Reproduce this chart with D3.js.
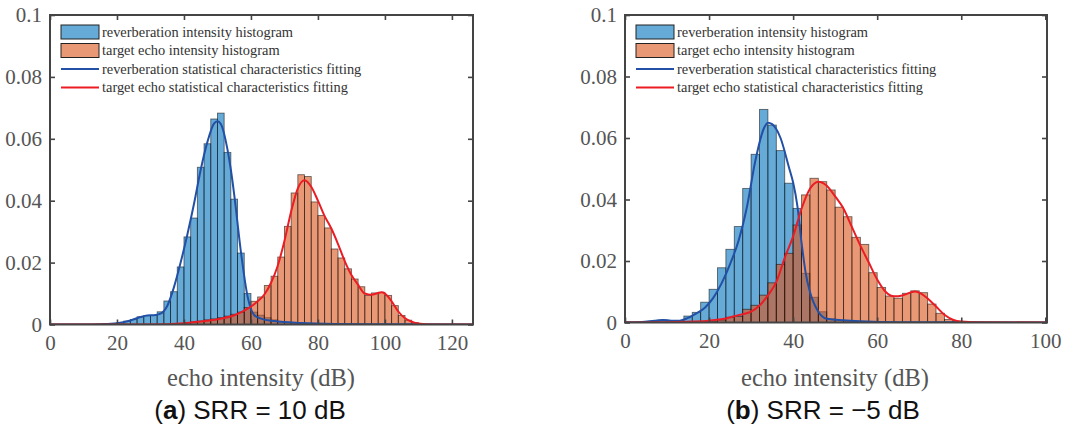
<!DOCTYPE html>
<html>
<head>
<meta charset="utf-8">
<script src="https://cdn.jsdelivr.net/npm/d3@7"></script>
<style>
  html, body { margin: 0; padding: 0; background: #fff; }
  svg { display: block; }
</style>
</head>
<body>
<svg id="chart" width="1072" height="431"></svg>
<script>
// ---------- DATA ----------
// Panel (a) SRR = 10 dB
const aBlueBinStart = [14,16,18,20,22,24,26,28,30,32,34,36,38,40,42,44,46,48,50,52,54,56,58,60,62,64,66,68,70,72,74,76];
const aBlueBinValue = [0.0001,0.0002,0.0003,0.0006,0.0011,0.0016,0.0025,0.0029,0.0029,0.0041,0.0076,0.0106,0.0186,0.0283,0.0344,0.0508,0.0584,0.0664,0.0683,0.0556,0.0405,0.0231,0.0100,0.0040,0.0030,0.0022,0.0015,0.0010,0.0007,0.0005,0.0003,0.0002];
const aOrangeBinStart = [38,40,42,44,46,48,50,52,54,56,58,60,62,64,66,68,70,72,74,76,78,80,82,84,86,88,90,92,94,96,98,100,102,104,106,108];
const aOrangeBinValue = [0.0003,0.0006,0.0008,0.0011,0.0015,0.0018,0.0022,0.0027,0.0033,0.0040,0.0055,0.0075,0.0089,0.0126,0.0156,0.0218,0.0317,0.0425,0.0484,0.0478,0.0396,0.0352,0.0312,0.0244,0.0215,0.0180,0.0147,0.0122,0.0094,0.0102,0.0104,0.0094,0.0061,0.0029,0.0014,0.0006];
const aBlueFitX = [0,10,15,20,24,27,29,31,33,35,37,39,41,43,45,47,49,50,51,53,54,55,57,59,61,63,67,75,85,100,126];
const aBlueFitY = [0,0,0.0001,0.0004,0.0013,0.0024,0.0029,0.0030,0.0035,0.0060,0.0120,0.0200,0.0290,0.0390,0.0500,0.0590,0.0650,0.0657,0.0648,0.0565,0.0500,0.0420,0.0235,0.0090,0.0030,0.0019,0.0011,0.0005,0.0002,0.0001,0];
const aRedFitX = [0,30,40,45,50,55,58,60,62,64,66,68,70,72,74,76,78,80,82,84,86,88,90,92,94,96,98,99,100,102,104,106,108,110,114,126];
const aRedFitY = [0,0,0.0004,0.0010,0.0017,0.0030,0.0045,0.0058,0.0075,0.0097,0.0135,0.0190,0.0270,0.0365,0.0440,0.0466,0.0445,0.0400,0.0350,0.0310,0.0260,0.0205,0.0160,0.0128,0.0100,0.0096,0.0102,0.0104,0.0100,0.0075,0.0042,0.0020,0.0009,0.0003,0,0];
const aXTicks = [0,20,40,60,80,100,120];

// Panel (b) SRR = -5 dB
const bBlueBinStart = [6,8,10,12,14,16,18,20,22,24,26,28,30,32,34,36,38,40,42,44,46,48,50,52,54,56];
const bBlueBinValue = [0.0003,0.0008,0.0006,0.0005,0.0021,0.0033,0.0066,0.0108,0.0178,0.0238,0.0312,0.0436,0.0547,0.0693,0.0642,0.0559,0.0453,0.0371,0.0160,0.0082,0.0035,0.0012,0.0008,0.0005,0.0003,0.0002];
const bOrangeBinStart = [16,18,20,22,24,26,28,30,32,34,36,38,40,42,44,46,48,50,52,54,56,58,60,62,64,66,68,70,72,74,76,78];
const bOrangeBinValue = [0.0002,0.0003,0.0004,0.0008,0.0017,0.0020,0.0043,0.0056,0.0089,0.0129,0.0189,0.0225,0.0317,0.0415,0.0469,0.0458,0.0431,0.0375,0.0344,0.0277,0.0254,0.0162,0.0114,0.0086,0.0079,0.0095,0.0103,0.0097,0.0060,0.0030,0.0010,0.0003];
const bBlueFitX = [0,4,7,9,11,13,15,17,19,21,23,25,27,29,31,33,34,35,37,39,40,41,42,43,44,46,48,52,56,65,100];
const bBlueFitY = [0.0001,0.0002,0.0006,0.0008,0.0006,0.0006,0.0015,0.0030,0.0048,0.0080,0.0128,0.0190,0.0265,0.0375,0.0525,0.0630,0.0650,0.0645,0.0600,0.0505,0.0455,0.0380,0.0260,0.0160,0.0100,0.0035,0.0012,0.0007,0.0004,0.0001,0];
const bRedFitX = [0,10,16,20,24,27,30,32,34,36,38,40,42,44,46,48,50,52,54,56,58,60,62,64,66,68,69,70,72,74,76,78,80,84,100];
const bRedFitY = [0,0.0001,0.0003,0.0006,0.0013,0.0024,0.0035,0.0055,0.0088,0.0132,0.0210,0.0280,0.0370,0.0435,0.0458,0.0445,0.0410,0.0370,0.0310,0.0250,0.0195,0.0140,0.0100,0.0085,0.0088,0.0098,0.0101,0.0097,0.0078,0.0052,0.0025,0.0009,0.0003,0.0001,0];
const bXTicks = [0,20,40,60,80,100];

const binWidth = 2;
const yTicks = [0, 0.02, 0.04, 0.06, 0.08, 0.1];
const yTickLabels = ["0", "0.02", "0.04", "0.06", "0.08", "0.1"];
const legendLabels = [
  "reverberation intensity histogram",
  "target echo intensity histogram",
  "reverberation statistical characteristics fitting",
  "target echo statistical characteristics fitting"
];
const xAxisTitle = "echo intensity (dB)";

// ---------- STYLE ----------
const blueFill = "rgb(0,114,189)";
const orangeFill = "rgb(217,83,25)";
const blueLine = "#2150a6";
const redLine = "#ec1c24";
const axisColor = "#444";
const serif = "'Liberation Serif', 'DejaVu Serif', serif";
const sans = "'Liberation Sans', Arial, sans-serif";

const svg = d3.select("#chart");

function panel(cfg) {
  const x = d3.scaleLinear().domain(cfg.xDomain).range(cfg.xRange);
  const y = d3.scaleLinear().domain([0, 0.1]).range(cfg.yRange);
  const g = svg.append("g");

  const clipId = "clip" + cfg.id;
  svg.append("clipPath").attr("id", clipId).append("rect")
    .attr("x", cfg.xRange[0]).attr("y", cfg.yRange[1])
    .attr("width", cfg.xRange[1] - cfg.xRange[0]).attr("height", cfg.yRange[0] - cfg.yRange[1]);
  const plot = g.append("g").attr("clip-path", `url(#${clipId})`);

  function bars(starts, values, fill) {
    plot.append("g").selectAll("rect")
      .data(starts.map((s, i) => ({ s, v: values[i] })))
      .join("rect")
      .attr("x", d => x(d.s))
      .attr("width", d => x(d.s + binWidth) - x(d.s))
      .attr("y", d => y(d.v))
      .attr("height", d => y(0) - y(d.v))
      .attr("fill", fill).attr("fill-opacity", 0.6)
      .attr("stroke", "#000").attr("stroke-opacity", 0.55).attr("stroke-width", 0.9);
  }
  bars(cfg.blueStart, cfg.blueVal, blueFill);
  bars(cfg.orangeStart, cfg.orangeVal, orangeFill);

  const line = d3.line().x(d => x(d[0])).y(d => y(d[1])).curve(d3.curveMonotoneX);
  plot.append("path").datum(cfg.blueFitX.map((v, i) => [v, cfg.blueFitY[i]]))
    .attr("d", line).attr("fill", "none").attr("stroke", blueLine).attr("stroke-width", 2);
  plot.append("path").datum(cfg.redFitX.map((v, i) => [v, cfg.redFitY[i]]))
    .attr("d", line).attr("fill", "none").attr("stroke", redLine).attr("stroke-width", 2);

  // axes (ticks pointing inward)
  const styleAxis = sel => {
    sel.attr("font-family", serif).attr("font-size", 21);
    sel.select(".domain").remove();
    sel.selectAll(".tick line").attr("stroke", axisColor).attr("stroke-width", 1.6);
    sel.selectAll(".tick text").attr("fill", "#555").attr("font-family", serif).attr("font-size", 21);
  };
  g.append("g").attr("transform", `translate(0,${cfg.yRange[0]})`)
    .call(d3.axisBottom(x).tickValues(cfg.xTicks).tickFormat(d3.format("d")).tickSize(-5).tickPadding(11))
    .call(styleAxis);
  g.append("g").attr("transform", `translate(0,${cfg.yRange[1]})`)
    .call(d3.axisTop(x).tickValues(cfg.xTicks).tickFormat("").tickSize(-5))
    .call(styleAxis);
  g.append("g").attr("transform", `translate(${cfg.xRange[0]},0)`)
    .call(d3.axisLeft(y).tickValues(yTicks).tickFormat((d, i) => yTickLabels[i]).tickSize(-5).tickPadding(8))
    .call(styleAxis);
  g.append("g").attr("transform", `translate(${cfg.xRange[1]},0)`)
    .call(d3.axisRight(y).tickValues(yTicks).tickFormat("").tickSize(-5))
    .call(styleAxis);

  g.append("rect")
    .attr("x", cfg.xRange[0]).attr("y", cfg.yRange[1])
    .attr("width", cfg.xRange[1] - cfg.xRange[0]).attr("height", cfg.yRange[0] - cfg.yRange[1])
    .attr("fill", "none").attr("stroke", axisColor).attr("stroke-width", 2);

  // legend
  const lx = cfg.xRange[0] + 11;
  const rows = [32, 50.5, 69, 87.5];
  const lg = g.append("g");
  [blueFill, orangeFill].forEach((c, i) => {
    lg.append("rect").attr("x", lx).attr("y", rows[i] - 7).attr("width", 38).attr("height", 14)
      .attr("fill", c).attr("fill-opacity", 0.6).attr("stroke", "#222").attr("stroke-width", 1);
  });
  [blueLine, redLine].forEach((c, i) => {
    lg.append("line").attr("x1", lx).attr("x2", lx + 38)
      .attr("y1", rows[i + 2]).attr("y2", rows[i + 2])
      .attr("stroke", c).attr("stroke-width", 2);
  });
  legendLabels.forEach((t, i) => {
    lg.append("text").attr("x", lx + 41).attr("y", rows[i]).attr("dy", "0.33em")
      .attr("font-family", serif).attr("font-size", 14.4).attr("fill", "#333").text(t);
  });

  // titles
  const cx = (cfg.xRange[0] + cfg.xRange[1]) / 2;
  g.append("text").attr("x", cfg.titleX).attr("y", 378).attr("dy", "0.33em").attr("text-anchor", "middle")
    .attr("font-family", serif).attr("font-size", 24.5).attr("fill", "#555").text(xAxisTitle);
  const cap = g.append("text").attr("x", cfg.captionX).attr("y", 410).attr("dy", "0.35em")
    .attr("text-anchor", "middle").attr("font-family", sans).attr("font-size", 26).attr("fill", "#111");
  cap.append("tspan").text("(");
  cap.append("tspan").attr("font-weight", "bold").text(cfg.letter);
  cap.append("tspan").text(") " + cfg.caption);
}

panel({
  id: "a", xDomain: [0, 126.3], xRange: [50, 473], yRange: [324.5, 15],
  blueStart: aBlueBinStart, blueVal: aBlueBinValue,
  orangeStart: aOrangeBinStart, orangeVal: aOrangeBinValue,
  blueFitX: aBlueFitX, blueFitY: aBlueFitY, redFitX: aRedFitX, redFitY: aRedFitY,
  xTicks: aXTicks, letter: "a", caption: "SRR = 10 dB", captionX: 250, titleX: 261
});
panel({
  id: "b", xDomain: [0, 100.4], xRange: [625, 1047], yRange: [322.5, 15],
  blueStart: bBlueBinStart, blueVal: bBlueBinValue,
  orangeStart: bOrangeBinStart, orangeVal: bOrangeBinValue,
  blueFitX: bBlueFitX, blueFitY: bBlueFitY, redFitX: bRedFitX, redFitY: bRedFitY,
  xTicks: bXTicks, letter: "b", caption: "SRR = \u22125 dB", captionX: 823, titleX: 835
});
</script>
</body>
</html>
